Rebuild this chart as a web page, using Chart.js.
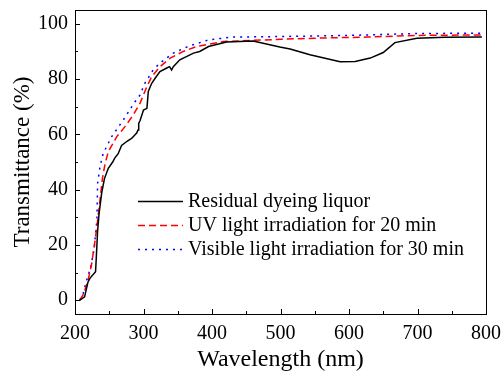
<!DOCTYPE html>
<html>
<head>
<meta charset="utf-8">
<script src="https://cdn.jsdelivr.net/npm/chart.js@4.4.0/dist/chart.umd.min.js"></script>
<style>
  html, body { margin: 0; padding: 0; background: #fff; }
  #wrap { width: 501px; height: 375px; }
</style>
</head>
<body>
<div id="wrap"><canvas id="chart"></canvas></div>
<script>
// ---------------- data ----------------
const seriesLabels = ['Residual dyeing liquor', 'UV light irradiation for 20 min', 'Visible light irradiation for 30 min'];

const residualWl = [207, 214, 219, 222, 230, 231, 233, 235, 237, 239, 243, 248.6, 255, 258, 263, 268, 276, 283, 290, 292, 293, 295, 300, 305, 307, 312, 317, 324, 334, 338, 341, 343.5, 353, 373, 382, 395, 421, 460, 499, 514, 543, 587, 609, 631, 650, 667, 699, 740, 794];
const residualT  = [0, 1.2, 6.6, 8, 10.3, 15, 25, 31, 35, 38.8, 44, 47.7, 50, 51.4, 53, 56, 57.5, 58.6, 60.5, 61.6, 64, 65, 68.8, 69.4, 75.5, 78.5, 80.3, 82.7, 84, 84.5, 83.3, 84.5, 87, 89.4, 90, 91.8, 93.4, 93.8, 91.6, 90.9, 88.8, 86.3, 86.4, 87.6, 89.6, 93.2, 94.8, 95.1, 95.2];

const uvWl = [207, 212, 218.5, 224, 228, 232, 236.5, 240, 244, 248.6, 261, 273, 285, 295, 305, 312, 324, 339, 358, 377.6, 395, 416.5, 460, 500, 550, 626, 699, 794];
const uvT  = [0, 2, 6.6, 12.7, 19.3, 26.6, 36.2, 44, 49.5, 53.7, 59.2, 62.8, 67, 71.3, 77.3, 80.9, 84.5, 87.6, 90, 91.8, 92.6, 93.6, 94, 94.4, 94.8, 95.2, 95.8, 96];

const visWl = [207, 212, 217, 223, 228, 230, 232, 233, 236.5, 241, 253.6, 270.5, 287.6, 295, 302, 314, 324, 343.5, 365, 395, 430, 500, 600, 700, 794];
const visT  = [0, 2.5, 7.2, 12, 18.7, 24, 29, 42.3, 48.3, 53, 59.2, 65.2, 71.8, 74.3, 78.5, 83.3, 85.8, 89.4, 91.8, 94.2, 95.2, 95.4, 95.8, 96.5, 96.6];

const xTicks = [200, 300, 400, 500, 600, 700, 800];
const xMinorTicks = [250, 350, 450, 550, 650, 750];
const yTicks = [0, 20, 40, 60, 80, 100];
const yMinorTicks = [10, 30, 50, 70, 90];

// ---------------- helpers ----------------
const FONT = "'Liberation Serif', 'Times New Roman', serif";

function toPoints(xs, ys) {
    return xs.map((x, i) => ({ x: x, y: ys[i] }));
}

// inward ticks, box frame and in-plot legend
const framePlugin = {
    id: 'frame',
    afterDraw(chart) {
        const ctx = chart.ctx;
        const area = chart.chartArea;
        const xs = chart.scales.x;
        const ys = chart.scales.y;

        ctx.save();
        ctx.strokeStyle = '#000';
        ctx.lineWidth = 1;
        ctx.strokeRect(area.left + 0.5, area.top + 0.5, area.right - area.left, area.bottom - area.top);

        ctx.beginPath();
        xTicks.forEach(v => {
            const px = Math.round(xs.getPixelForValue(v)) + 0.5;
            ctx.moveTo(px, area.bottom); ctx.lineTo(px, area.bottom - 5);
        });
        xMinorTicks.forEach(v => {
            const px = Math.round(xs.getPixelForValue(v)) + 0.5;
            ctx.moveTo(px, area.bottom); ctx.lineTo(px, area.bottom - 3);
        });
        yTicks.forEach(v => {
            const py = Math.round(ys.getPixelForValue(v)) + 0.5;
            ctx.moveTo(area.left, py); ctx.lineTo(area.left + 5, py);
        });
        yMinorTicks.forEach(v => {
            const py = Math.round(ys.getPixelForValue(v)) + 0.5;
            ctx.moveTo(area.left, py); ctx.lineTo(area.left + 3, py);
        });
        ctx.stroke();

        // legend
        const rows = [201, 225, 249];
        chart.data.datasets.forEach((ds, i) => {
            const y = rows[i] + 0.5;
            ctx.beginPath();
            ctx.strokeStyle = ds.borderColor;
            ctx.lineWidth = ds.borderWidth;
            ctx.setLineDash(ds.borderDash || []);
            ctx.moveTo(138, y);
            ctx.lineTo(183, y);
            ctx.stroke();
            ctx.setLineDash([]);
            ctx.fillStyle = '#000';
            ctx.font = '20px ' + FONT;
            ctx.textBaseline = 'middle';
            ctx.textAlign = 'left';
            ctx.fillText(ds.label, 188, rows[i] + 1);
        });
        ctx.restore();
    }
};

// ---------------- chart ----------------
const chartCanvas = document.getElementById('chart').getContext('2d');

const transChart = new Chart(chartCanvas, {
    type: 'line',
    data: {
        datasets: [
            {
                label: seriesLabels[0],
                data: toPoints(residualWl, residualT),
                borderColor: '#000000',
                borderWidth: 1.5
            },
            {
                label: seriesLabels[1],
                data: toPoints(uvWl, uvT),
                borderColor: '#ff0000',
                borderWidth: 1.5,
                borderDash: [7, 4]
            },
            {
                label: seriesLabels[2],
                data: toPoints(visWl, visT),
                borderColor: '#0000ff',
                borderWidth: 1.5,
                borderDash: [2, 5]
            }
        ]
    },
    options: {
        responsive: true,
        maintainAspectRatio: false,
        animation: false,
        parsing: false,
        elements: {
            point: { radius: 0 },
            line: { tension: 0, fill: false }
        },
        layout: { padding: { top: 10, right: 15, left: 0, bottom: 0 } },
        plugins: {
            legend: { display: false },
            tooltip: { enabled: false }
        },
        scales: {
            x: {
                type: 'linear',
                min: 200,
                max: 800,
                afterBuildTicks: s => { s.ticks = xTicks.map(v => ({ value: v })); },
                afterFit: s => { s.height = 61; s.paddingLeft = 0; s.paddingRight = 0; },
                grid: { display: false, drawTicks: false },
                border: { display: false },
                ticks: {
                    color: '#000',
                    padding: 8,
                    maxRotation: 0,
                    font: { family: FONT, size: 20 }
                },
                title: {
                    display: true,
                    text: 'Wavelength (nm)',
                    color: '#000',
                    padding: { top: 0, bottom: 1 },
                    font: { family: FONT, size: 24 }
                }
            },
            y: {
                type: 'linear',
                min: -5,
                max: 105,
                afterBuildTicks: s => { s.ticks = yTicks.map(v => ({ value: v })); },
                afterFit: s => { s.width = 75; s.paddingTop = 0; s.paddingBottom = 0; },
                grid: { display: false, drawTicks: false },
                border: { display: false },
                ticks: {
                    color: '#000',
                    padding: 7,
                    font: { family: FONT, size: 20 }
                },
                title: {
                    display: true,
                    text: 'Transmittance (%)',
                    color: '#000',
                    padding: { top: 9, bottom: 0 },
                    font: { family: FONT, size: 23 }
                }
            }
        }
    },
    plugins: [framePlugin]
});
</script>
</body>
</html>
